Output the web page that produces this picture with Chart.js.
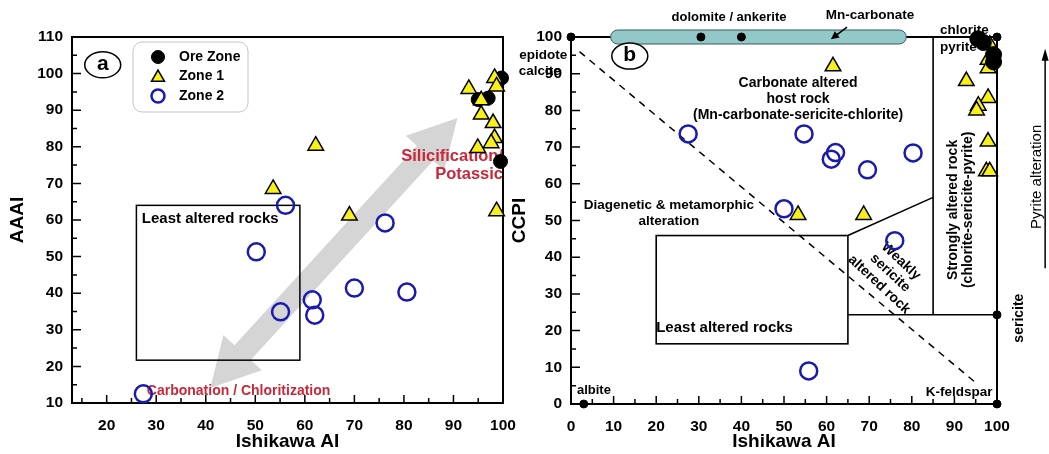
<!DOCTYPE html>
<html><head><meta charset="utf-8">
<script src="https://cdn.jsdelivr.net/npm/chart.js@4.4.1/dist/chart.umd.min.js"></script>
<style>
html,body{margin:0;padding:0;background:#fff;width:1049px;height:454px;overflow:hidden;position:relative}
canvas{position:absolute;top:0}
#ca{left:0}
#cb{left:500px}
</style></head><body>
<canvas id="ca" width="530" height="454"></canvas>
<canvas id="cb" width="549" height="454"></canvas>
<script>
// ---------- tick labels ----------
const xTicksA = [20, 30, 40, 50, 60, 70, 80, 90, 100];
const yTicksA = [10, 20, 30, 40, 50, 60, 70, 80, 90, 100, 110];
const xTicksB = [0, 10, 20, 30, 40, 50, 60, 70, 80, 90, 100];
const yTicksB = [0, 10, 20, 30, 40, 50, 60, 70, 80, 90, 100];

// ---------- panel a: Ishikawa AI vs AAAI ----------
const oreZoneA = [[95, 92.9], [97, 93.3], [99.7, 98.8], [99.5, 76]];
const zone1A = [[62.2, 80.3], [53.6, 68.5], [69, 61.2], [93.1, 95.8], [95.6, 92.7], [95.6, 88.8],
                [98, 86.5], [98.3, 82.4], [97.6, 81], [94.9, 79.7], [98.3, 98.8], [98.7, 96.5], [98.7, 62.4]];
const zone2A = [[27.4, 12.5], [50.2, 51.3], [56.1, 64], [55.1, 34.9], [61.5, 38.2], [62, 34],
                [70, 41.4], [76.2, 59.2], [80.6, 40.3]];

// ---------- panel b: Ishikawa AI vs CCPI ----------
const oreZoneB = [[95.5, 99.5], [96.8, 98.5], [99.2, 95.2], [99.2, 93.2]];
const zone1B = [[61.5, 92], [53.3, 51.5], [68.7, 51.5], [92.8, 88], [97.9, 83.4], [95.6, 81.3], [95.2, 80],
                [97.9, 71.5], [97.5, 63.4], [98.3, 63.4], [98.3, 97.9], [97.9, 93.8], [97.9, 91.5]];
const zone2B = [[27.5, 73.6], [54.7, 73.6], [62.1, 68.5], [61.1, 66.7], [69.6, 63.8], [80.3, 68.4],
                [50, 53.2], [76, 44.5], [55.8, 9]];
const mineralsB = [[0, 100], [30.5, 100], [40, 100], [100, 100], [100, 24.3], [100, 0], [3, 0]];

const legendLabels = ['Ore Zone', 'Zone 1', 'Zone 2'];

// ---------- styling ----------
const FONT = "'Liberation Sans', Arial, Helvetica, sans-serif";
Chart.defaults.font.family = FONT;
const RED = '#c8283a';
const tickFont = {family: FONT, size: 15.5, weight: 'bold'};
const titleFont = {family: FONT, size: 19, weight: 'bold'};

const oreStyle = {pointStyle: 'circle', pointRadius: 7, backgroundColor: '#000', borderColor: '#000', borderWidth: 1};
const z1Style = {pointStyle: 'triangle', pointRadius: 9, backgroundColor: '#f7f01a', borderColor: '#000', borderWidth: 1.5};
const z2Style = {pointStyle: 'circle', pointRadius: 8.5, backgroundColor: 'rgba(0,0,0,0)', borderColor: '#1a1aae', borderWidth: 2.5};
const minStyle = {pointStyle: 'circle', pointRadius: 4, backgroundColor: '#000', borderColor: '#000', borderWidth: 1};

function ds(label, pairs, style, order) {
  return Object.assign({label, order, clip: false, showLine: false,
    data: pairs.map(p => ({x: p[0], y: p[1]}))}, style,
    {pointHoverRadius: style.pointRadius});
}

function makeScale(min, max, tickVals, title, fitSize, isX, titlePad) {
  return {
    type: 'linear', min, max,
    afterBuildTicks: s => { s.ticks = tickVals.map(v => ({value: v})); },
    afterFit: s => { if (isX) s.height = fitSize; else s.width = fitSize; },
    grid: {display: false, drawTicks: false},
    border: {display: false},
    ticks: {color: '#000', font: tickFont, padding: isX ? 13 : 9, maxRotation: 0, autoSkip: false},
    title: {display: true, text: title, color: '#000', font: titleFont, padding: titlePad}
  };
}

// ---------- drawing helpers ----------
function txt(ctx, s, px, py, font, align, color, rot) {
  ctx.save();
  ctx.translate(px, py);
  if (rot) ctx.rotate(rot);
  ctx.font = font;
  ctx.fillStyle = color || '#000';
  ctx.textAlign = align || 'center';
  ctx.textBaseline = 'middle';
  ctx.fillText(s, 0, 0);
  ctx.restore();
}
function frameAndTicks(chart) {
  const {ctx, chartArea: a, scales: {x, y}} = chart;
  ctx.save();
  ctx.strokeStyle = '#000';
  ctx.lineWidth = 1.5;
  ctx.beginPath();
  for (let v = Math.ceil(x.min / 5) * 5; v <= x.max; v += 5) {
    const px = x.getPixelForValue(v);
    const len = v % 10 === 0 ? 8 : 5;
    ctx.moveTo(px, a.bottom); ctx.lineTo(px, a.bottom - len);
  }
  for (let v = Math.ceil(y.min / 5) * 5; v <= y.max; v += 5) {
    const py = y.getPixelForValue(v);
    const len = v % 10 === 0 ? 9 : 5;
    ctx.moveTo(a.left, py); ctx.lineTo(a.left + len, py);
  }
  ctx.stroke();
  ctx.lineWidth = 2;
  ctx.strokeRect(a.left, a.top, a.right - a.left, a.bottom - a.top);
  ctx.restore();
}
function panelTag(ctx, cx, cy, letter) {
  ctx.save();
  ctx.lineWidth = 1.5;
  ctx.strokeStyle = '#000';
  ctx.fillStyle = '#fff';
  ctx.beginPath();
  ctx.ellipse(cx, cy, 18, 13, 0, 0, Math.PI * 2);
  ctx.fill();
  ctx.stroke();
  ctx.restore();
  txt(ctx, letter, cx, cy - 1, 'bold 21px ' + FONT);
}
function doubleArrow(ctx, x1, y1, x2, y2, sw, hw, hl, color) {
  const dx = x2 - x1, dy = y2 - y1, L = Math.hypot(dx, dy);
  const ux = dx / L, uy = dy / L, nx = -uy, ny = ux;
  const pts = [
    [x1, y1],
    [x1 + ux * hl + nx * hw, y1 + uy * hl + ny * hw],
    [x1 + ux * hl + nx * sw, y1 + uy * hl + ny * sw],
    [x2 - ux * hl + nx * sw, y2 - uy * hl + ny * sw],
    [x2 - ux * hl + nx * hw, y2 - uy * hl + ny * hw],
    [x2, y2],
    [x2 - ux * hl - nx * hw, y2 - uy * hl - ny * hw],
    [x2 - ux * hl - nx * sw, y2 - uy * hl - ny * sw],
    [x1 + ux * hl - nx * sw, y1 + uy * hl - ny * sw],
    [x1 + ux * hl - nx * hw, y1 + uy * hl - ny * hw]
  ];
  ctx.save();
  ctx.fillStyle = color;
  ctx.beginPath();
  pts.forEach((p, i) => i ? ctx.lineTo(p[0], p[1]) : ctx.moveTo(p[0], p[1]));
  ctx.closePath();
  ctx.fill();
  ctx.restore();
}
function arrowLine(ctx, x1, y1, x2, y2, lw, hl, hw) {
  const dx = x2 - x1, dy = y2 - y1, L = Math.hypot(dx, dy);
  const ux = dx / L, uy = dy / L, nx = -uy, ny = ux;
  ctx.save();
  ctx.strokeStyle = '#000'; ctx.fillStyle = '#000'; ctx.lineWidth = lw;
  ctx.beginPath();
  ctx.moveTo(x1, y1); ctx.lineTo(x2 - ux * hl * 0.6, y2 - uy * hl * 0.6);
  ctx.stroke();
  ctx.beginPath();
  ctx.moveTo(x2, y2);
  ctx.lineTo(x2 - ux * hl + nx * hw, y2 - uy * hl + ny * hw);
  ctx.lineTo(x2 - ux * hl - nx * hw, y2 - uy * hl - ny * hw);
  ctx.closePath();
  ctx.fill();
  ctx.restore();
}

// ---------- panel a decorations ----------
const decorA = {
  id: 'decorA',
  beforeDatasetsDraw(chart) {
    const ctx = chart.ctx;
    const X = v => chart.scales.x.getPixelForValue(v);
    const Y = v => chart.scales.y.getPixelForValue(v);
    doubleArrow(ctx, X(40.9), Y(14.1), X(90.8), Y(87.9), 11, 26, 48, '#d5d5d5');
    ctx.save();
    ctx.lineWidth = 1.5; ctx.strokeStyle = '#000';
    ctx.strokeRect(X(26), Y(64), X(59) - X(26), Y(21.7) - Y(64));
    ctx.restore();
    txt(ctx, 'Least altered rocks', X(27.1), Y(60.3), 'bold 15px ' + FONT, 'left');
    txt(ctx, 'Silicification/', X(100), Y(77.3), 'bold 16.5px ' + FONT, 'right', RED);
    txt(ctx, 'Potassic', X(100), Y(72.4), 'bold 16.5px ' + FONT, 'right', RED);
    txt(ctx, 'Carbonation / Chloritization', X(28.1), Y(13.3), 'bold 14px ' + FONT, 'left', RED);
    frameAndTicks(chart);
    panelTag(ctx, X(19.2), Y(102.4), 'a');
  },
  afterDatasetsDraw(chart) {
    const ctx = chart.ctx, a = chart.chartArea;
    const bx = a.left + 61, by = a.top + 5, bw = 115, bh = 70, r = 9;
    ctx.save();
    ctx.fillStyle = '#fff'; ctx.strokeStyle = '#c4c4c4'; ctx.lineWidth = 1;
    ctx.beginPath();
    ctx.moveTo(bx + r, by); ctx.lineTo(bx + bw - r, by); ctx.arcTo(bx + bw, by, bx + bw, by + r, r);
    ctx.lineTo(bx + bw, by + bh - r); ctx.arcTo(bx + bw, by + bh, bx + bw - r, by + bh, r);
    ctx.lineTo(bx + r, by + bh); ctx.arcTo(bx, by + bh, bx, by + bh - r, r);
    ctx.lineTo(bx, by + r); ctx.arcTo(bx, by, bx + r, by, r);
    ctx.closePath(); ctx.fill(); ctx.stroke();
    ctx.restore();
    legendLabels.forEach((lab, i) => {
      const d = chart.data.datasets.find(s => s.label === lab);
      const cy = a.top + 20 + i * 19.5;
      ctx.save();
      ctx.fillStyle = d.backgroundColor; ctx.strokeStyle = d.borderColor; ctx.lineWidth = d.borderWidth;
      Chart.helpers.drawPoint(ctx, {pointStyle: d.pointStyle, radius: d.pointStyle === 'triangle' ? 7.5 : 6.5,
        rotation: 0, borderWidth: d.borderWidth}, a.left + 86, cy + (d.pointStyle === 'triangle' ? 1 : 0));
      ctx.restore();
      txt(ctx, lab, a.left + 107, cy, 'bold 14px ' + FONT, 'left');
    });
  }
};

// ---------- panel b decorations ----------
const decorB = {
  id: 'decorB',
  beforeDatasetsDraw(chart) {
    const ctx = chart.ctx;
    const X = v => chart.scales.x.getPixelForValue(v);
    const Y = v => chart.scales.y.getPixelForValue(v);
    const F = s => 'bold ' + s + 'px ' + FONT;
    ctx.save();
    ctx.strokeStyle = '#000'; ctx.lineWidth = 1.6;
    ctx.beginPath();
    ctx.moveTo(X(85), Y(24.3)); ctx.lineTo(X(85), Y(100));
    ctx.moveTo(X(65), Y(24.3)); ctx.lineTo(X(100), Y(24.3));
    ctx.moveTo(X(65), Y(45.9)); ctx.lineTo(X(85), Y(56.3));
    ctx.stroke();
    ctx.strokeRect(X(20), Y(45.9), X(65) - X(20), Y(16.4) - Y(45.9));
    ctx.setLineDash([7, 6]);
    ctx.lineWidth = 1.5;
    ctx.beginPath();
    ctx.moveTo(X(2), Y(96)); ctx.lineTo(X(95.2), Y(5.6));
    ctx.stroke();
    ctx.restore();
    frameAndTicks(chart);
    // carbonate capsule
    const cx1 = X(9.3), cx2 = X(78.7), cyc = Y(100), h = 7;
    ctx.save();
    ctx.fillStyle = '#93c8c8'; ctx.strokeStyle = '#3c5a5a'; ctx.lineWidth = 1;
    ctx.beginPath();
    ctx.moveTo(cx1 + h, cyc - h); ctx.lineTo(cx2 - h, cyc - h);
    ctx.arc(cx2 - h, cyc, h, -Math.PI / 2, Math.PI / 2);
    ctx.lineTo(cx1 + h, cyc + h);
    ctx.arc(cx1 + h, cyc, h, Math.PI / 2, Math.PI * 1.5);
    ctx.closePath(); ctx.fill(); ctx.stroke();
    ctx.restore();
    txt(ctx, 'dolomite / ankerite', X(37.1), Y(105.2), F(13));
    txt(ctx, 'Mn-carbonate', X(70.2), Y(106), F(13.5));
    arrowLine(ctx, X(64.8), Y(102.7), X(61), Y(99.4), 1.6, 8, 4);
    txt(ctx, 'chlorite', X(86.6), Y(101.9), F(13.5), 'left');
    txt(ctx, 'pyrite', X(86.6), Y(97.3), F(13.5), 'left');
    txt(ctx, 'epidote', X(-0.9), Y(95.1), F(13.5), 'right');
    txt(ctx, 'calcite', X(-2.4), Y(90.6), F(13.5), 'right');
    txt(ctx, 'Carbonate altered', X(53.3), Y(87.5), F(14));
    txt(ctx, 'host rock', X(53.3), Y(83.1), F(14));
    txt(ctx, '(Mn-carbonate-sericite-chlorite)', X(53.3), Y(78.7), F(14));
    txt(ctx, 'Diagenetic & metamorphic', X(23), Y(54.2), F(13.5));
    txt(ctx, 'alteration', X(23), Y(49.9), F(13.5));
    txt(ctx, 'Least altered rocks', X(20), Y(20.7), F(15), 'left');
    // weakly sericite altered rock (rotated block)
    ctx.save();
    ctx.translate(X(74.9), Y(35.7));
    ctx.rotate(43 * Math.PI / 180);
    ['Weakly', 'sericite', 'altered rock'].forEach((s, i) => txt(ctx, s, 0, (i - 1) * 16, F(14)));
    ctx.restore();
    txt(ctx, 'Strongly altered rock', X(89.6), Y(52.9), F(14), 'center', '#000', -Math.PI / 2);
    txt(ctx, '(chlorite-sericite-pyrite)', X(93.2), Y(52.9), F(14), 'center', '#000', -Math.PI / 2);
    txt(ctx, 'sericite', X(105.2), Y(23.4), F(14), 'center', '#000', -Math.PI / 2);
    txt(ctx, 'albite', X(1.4), Y(3.8), F(13), 'left');
    txt(ctx, 'K-feldspar', X(91.1), Y(3.3), F(13.5));
    txt(ctx, 'Pyrite alteration', X(109.3), Y(61.9), '15px ' + FONT, 'center', '#000', -Math.PI / 2);
    arrowLine(ctx, X(111.3), Y(37), X(111.3), Y(96.8), 1.5, 12, 3.5);
    panelTag(ctx, X(13.8), Y(94.8), 'b');
  }
};

const common = {
  responsive: false, animation: false, events: [],
  plugins: {legend: {display: false}, tooltip: {enabled: false}}
};

new Chart(document.getElementById('ca'), {
  type: 'scatter',
  data: {datasets: [
    ds('Ore Zone', oreZoneA, oreStyle, 2),
    ds('Zone 1', zone1A, z1Style, 1),
    ds('Zone 2', zone2A, z2Style, 3)
  ]},
  options: Object.assign({}, common, {
    layout: {padding: {left: 0, top: 37, right: 27, bottom: 0}},
    scales: {
      x: makeScale(13, 100, xTicksA, 'Ishikawa AI', 51, true, {top: 0, bottom: 1}),
      y: makeScale(10, 110, yTicksA, 'AAAI', 72, false, {top: 6, bottom: 0})
    }
  }),
  plugins: [decorA]
});

new Chart(document.getElementById('cb'), {
  type: 'scatter',
  data: {datasets: [
    ds('Ore Zone', oreZoneB, Object.assign({}, oreStyle, {pointRadius: 8}), 1),
    ds('Zone 1', zone1B, z1Style, 2),
    ds('Zone 2', zone2B, z2Style, 3),
    ds('Reference minerals', mineralsB, minStyle, 0)
  ]},
  options: Object.assign({}, common, {
    layout: {padding: {left: 0, top: 37, right: 52, bottom: 0}},
    scales: {
      x: makeScale(0, 100, xTicksB, 'Ishikawa AI', 50, true, {top: 0, bottom: 1}),
      y: makeScale(0, 100, yTicksB, 'CCPI', 71, false, {top: 8, bottom: 0})
    }
  }),
  plugins: [decorB]
});
</script>
</body></html>
